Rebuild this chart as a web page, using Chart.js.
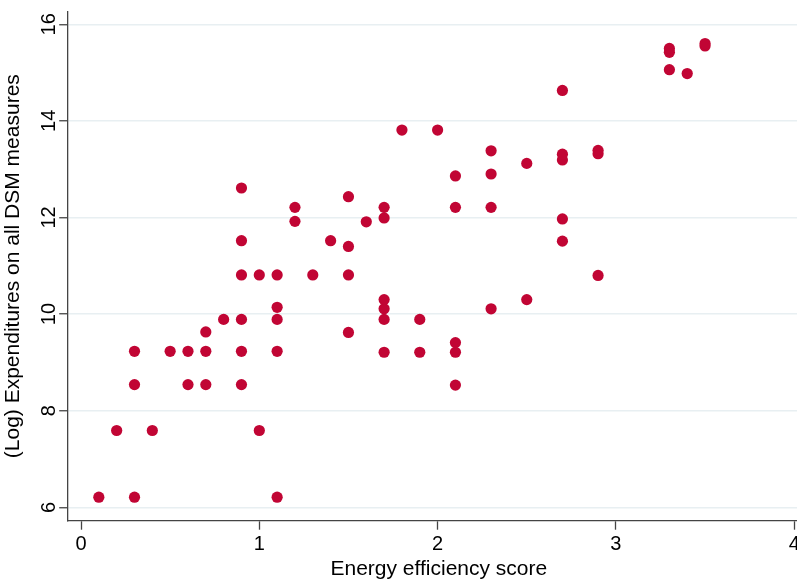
<!DOCTYPE html>
<html>
<head>
<meta charset="utf-8">
<title>Energy efficiency score vs DSM expenditures</title>
<script src="https://cdn.jsdelivr.net/npm/chart.js@4.4.1/dist/chart.umd.min.js"></script>
<style>
  html, body { margin: 0; padding: 0; background: #fff; overflow: hidden; }
  /* canvas is a bit wider than the window: the right end of the x axis is cropped like in the source */
  #wrap { position: relative; width: 830px; height: 581px; }
</style>
</head>
<body>
<div id="wrap"><canvas id="chart"></canvas></div>
<script>
  const FONT = "'Liberation Sans', Arial, Helvetica, sans-serif";

  // energy efficiency score (x) and log expenditures (y), one entry per state
  const scoreValues = [
    0.1, 0.2, 0.3, 0.3, 0.3, 0.4, 0.5, 0.6, 0.6, 0.7, 0.7, 0.7, 0.8,
    0.9, 0.9, 0.9, 0.9, 0.9, 0.9, 1.0, 1.0, 1.1, 1.1, 1.1, 1.1, 1.1,
    1.2, 1.2, 1.3, 1.4, 1.5, 1.5, 1.5, 1.5, 1.6,
    1.7, 1.7, 1.7, 1.7, 1.7, 1.7, 1.8, 1.9, 1.9, 2.0,
    2.1, 2.1, 2.1, 2.1, 2.1, 2.3, 2.3, 2.3, 2.3, 2.5, 2.5,
    2.7, 2.7, 2.7, 2.7, 2.7, 2.9, 2.9, 2.9,
    3.3, 3.3, 3.3, 3.4, 3.5, 3.5
  ];
  const logSpend = [
    6.21, 7.59, 6.21, 8.54, 9.23, 7.59, 9.23, 8.54, 9.23, 8.54, 9.23, 9.63, 9.89,
    8.54, 9.23, 9.89, 10.81, 11.52, 12.61, 7.59, 10.81, 6.21, 9.23, 9.89, 10.14, 10.81,
    11.92, 12.21, 10.81, 11.52, 9.62, 10.81, 11.40, 12.43, 11.91,
    9.21, 9.89, 10.11, 10.30, 11.99, 12.21, 13.81, 9.21, 9.89, 13.81,
    8.53, 9.21, 9.41, 12.21, 12.86, 10.11, 12.21, 12.90, 13.38, 10.30, 13.12,
    11.51, 11.97, 13.19, 13.31, 14.63, 10.80, 13.32, 13.39,
    15.06, 15.42, 15.50, 14.98, 15.55, 15.60
  ];

  const xTicks = [0, 1, 2, 3, 4];
  const yTicks = [6, 8, 10, 12, 14, 16];
  const xTitle = "Energy efficiency score";
  const yTitle = "(Log) Expenditures on all DSM measures";

  const points = scoreValues.map((x, i) => ({ x: x, y: logSpend[i] }));

  const axisColor = "#444";

  new Chart(document.getElementById("chart"), {
    type: "scatter",
    data: {
      datasets: [{
        data: points,
        pointRadius: 5.6,
        pointHoverRadius: 5.6,
        pointBackgroundColor: "#c10534",
        pointBorderWidth: 0,
        borderWidth: 0
      }]
    },
    options: {
      responsive: true,
      maintainAspectRatio: false,
      animation: false,
      devicePixelRatio: 1,
      layout: { padding: { top: 11.7, right: 20, bottom: 0, left: 0 } },
      plugins: {
        legend: { display: false },
        tooltip: { enabled: false }
      },
      scales: {
        x: {
          type: "linear",
          min: -0.0746,
          max: 4.0886,
          afterBuildTicks: s => { s.ticks = xTicks.map(v => ({ value: v })); },
          afterFit: s => { s.height = 60.3; s.paddingLeft = 0; s.paddingRight = 0; },
          grid: { drawOnChartArea: false, drawTicks: true, tickLength: 9, tickColor: axisColor, tickWidth: 1.3 },
          border: { display: true, color: axisColor, width: 1.3 },
          ticks: { color: "#000", font: { family: FONT, size: 20 }, padding: 3, maxRotation: 0, autoSkip: false },
          title: {
            display: true, text: xTitle, color: "#000",
            font: { family: FONT, size: 21, lineHeight: 1 },
            padding: { top: 0, bottom: 1.1 }
          }
        },
        y: {
          type: "linear",
          min: 5.723,
          max: 16.26,
          afterBuildTicks: s => { s.ticks = yTicks.map(v => ({ value: v })); },
          afterFit: s => { s.width = 67.7; s.paddingTop = 0; s.paddingBottom = 0; },
          grid: { color: "#e8eff2", lineWidth: 1.5, tickLength: 8.5, tickColor: axisColor, tickWidth: 1.3 },
          border: { display: true, color: axisColor, width: 1.3 },
          ticks: {
            color: "#000", font: { family: FONT, size: 20 },
            minRotation: 90, maxRotation: 90, crossAlign: "center", padding: -1, autoSkip: false
          },
          title: {
            display: true, text: yTitle, color: "#000",
            font: { family: FONT, size: 21, lineHeight: 1 },
            padding: { top: 2.5, bottom: 0 }
          }
        }
      }
    }
  });
</script>
</body>
</html>
